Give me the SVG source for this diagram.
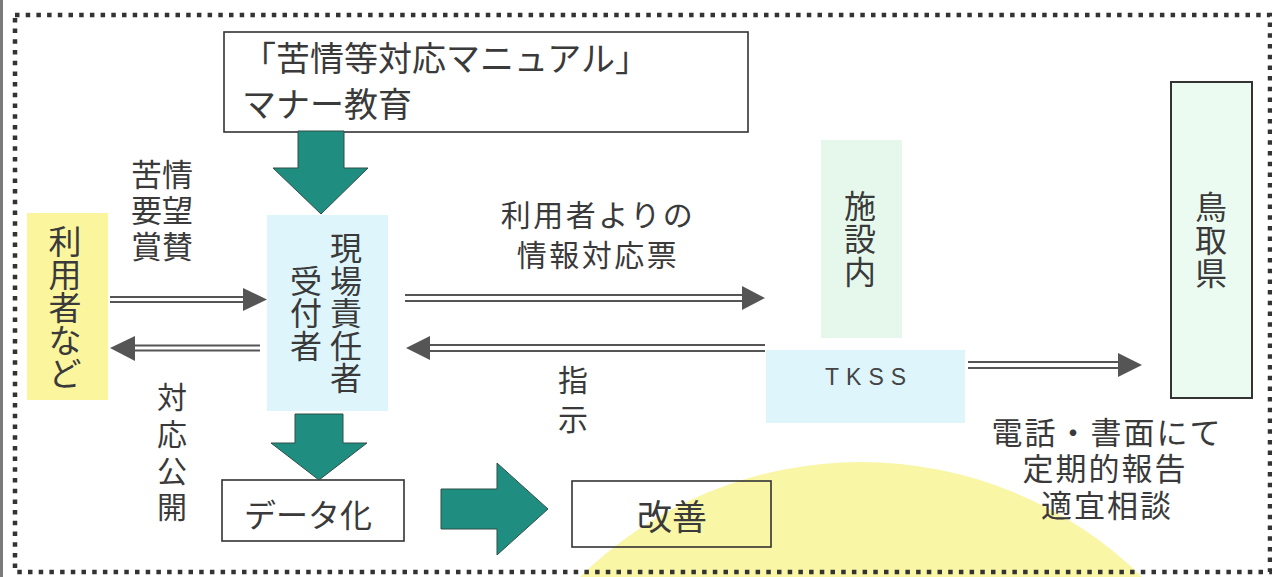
<svg xmlns="http://www.w3.org/2000/svg" width="1272" height="577" viewBox="0 0 1272 577">
<style>
.t{font-family:"Noto Sans CJK JP","Noto Sans",sans-serif;fill:#3a3a3a;}
.box{fill:#fff;stroke:#333;stroke-width:1.6;}
.dl{stroke:#555;stroke-width:2;}
.hd{fill:#555;}
.teal{fill:#1f8e80;stroke:#2f4f49;stroke-width:1;}
</style>
<rect x="0" y="0" width="1272" height="577" fill="#fff"/>
<circle cx="861" cy="863" r="401" fill="#f9f6a6"/>
<rect x="0" y="0" width="3" height="577" fill="#7a7a7a"/>
<rect x="15" y="15" width="1255" height="557" fill="none" stroke="#333" stroke-width="4.5" stroke-dasharray="4.5 6.2"/>

<g id="manual">
<rect class="box" x="224" y="32" width="524" height="100"/>
<text class="t" x="242" y="71" font-size="34">「苦情等対応マニュアル」</text>
<text class="t" x="242" y="117" font-size="34">マナー教育</text>
</g>

<g id="user">
<rect x="27" y="213" width="81" height="187" fill="#fbf59e"/>
<text class="t" font-size="33" text-anchor="middle"><tspan x="65" y="254">利</tspan><tspan x="65" y="287">用</tspan><tspan x="65" y="320">者</tspan><tspan x="65" y="353">な</tspan><tspan x="65" y="386">ど</tspan></text>
</g>

<g id="staff">
<rect x="267" y="215" width="121" height="196" fill="#def6fb"/>
<text class="t" font-size="32" text-anchor="middle"><tspan x="346" y="260">現</tspan><tspan x="346" y="292.5">場</tspan><tspan x="346" y="325">責</tspan><tspan x="346" y="357.5">任</tspan><tspan x="346" y="390">者</tspan></text>
<text class="t" font-size="32" text-anchor="middle"><tspan x="306" y="292.5">受</tspan><tspan x="306" y="325">付</tspan><tspan x="306" y="357.5">者</tspan></text>
</g>

<g id="facility">
<rect x="821" y="140" width="81" height="198" fill="#e6f8ec"/>
<text class="t" font-size="32" text-anchor="middle"><tspan x="860" y="218">施</tspan><tspan x="860" y="251">設</tspan><tspan x="860" y="284">内</tspan></text>
</g>

<g id="tkss">
<rect x="766" y="350" width="199" height="73" fill="#def6fb"/>
<text x="825" y="385" font-family="Liberation Sans, Arial, sans-serif" font-size="23" letter-spacing="7" fill="#444">TKSS</text>
</g>

<g id="tottori">
<rect x="1171" y="82" width="81" height="316" fill="#ecfbf2" stroke="#333" stroke-width="2"/>
<text class="t" font-size="32" text-anchor="middle"><tspan x="1211" y="219">鳥</tspan><tspan x="1211" y="252">取</tspan><tspan x="1211" y="285">県</tspan></text>
</g>

<g id="data">
<rect class="box" x="222" y="480" width="182" height="61"/>
<text class="t" x="308" y="527" font-size="32" text-anchor="middle">データ化</text>
</g>

<g id="kaizen">
<rect x="572" y="481" width="199" height="66" fill="none" stroke="#333" stroke-width="1.6"/>
<text class="t" x="672" y="530" font-size="35" text-anchor="middle">改善</text>
</g>

<g id="labels">
<text class="t" font-size="31"><tspan x="131" y="186">苦情</tspan><tspan x="131" y="222">要望</tspan><tspan x="131" y="258">賞賛</tspan></text>
<text class="t" font-size="30" text-anchor="middle"><tspan x="172" y="408">対</tspan><tspan x="172" y="445">応</tspan><tspan x="172" y="482">公</tspan><tspan x="172" y="518">開</tspan></text>
<text class="t" font-size="30" text-anchor="middle" letter-spacing="2.5"><tspan x="598" y="226">利用者よりの</tspan><tspan x="598" y="266">情報対応票</tspan></text>
<text class="t" font-size="30" text-anchor="middle"><tspan x="573" y="391">指</tspan><tspan x="573" y="430">示</tspan></text>
<text class="t" font-size="31" text-anchor="middle" letter-spacing="2"><tspan x="1107" y="444">電話・書面にて</tspan><tspan x="1105" y="480">定期的報告</tspan><tspan x="1107" y="517">適宜相談</tspan></text>
</g>

<g id="connectors">
<line class="dl" x1="110" y1="297" x2="245" y2="297"/><line class="dl" x1="110" y1="302" x2="245" y2="302"/>
<polygon class="hd" points="243,288 267,299.5 243,311"/>
<line class="dl" x1="133" y1="345.5" x2="260" y2="345.5"/><line class="dl" x1="133" y1="350.5" x2="260" y2="350.5"/>
<polygon class="hd" points="135,336 110,348 135,361"/>
<line class="dl" x1="405" y1="295" x2="745" y2="295"/><line class="dl" x1="405" y1="301" x2="745" y2="301"/>
<polygon class="hd" points="742,286 765,298 742,310"/>
<line class="dl" x1="428" y1="345" x2="765" y2="345"/><line class="dl" x1="428" y1="351" x2="765" y2="351"/>
<polygon class="hd" points="430,336 406,348 430,360"/>
<line class="dl" x1="968" y1="362" x2="1120" y2="362"/><line class="dl" x1="968" y1="368" x2="1120" y2="368"/>
<polygon class="hd" points="1118,353 1142,365 1118,377"/>
<polygon class="teal" points="298,131 344,131 344,168 368,168 321,214 273,168 298,168"/>
<polygon class="teal" points="295,414 343,414 343,443 367,443 319,480 271,443 295,443"/>
<polygon class="teal" points="441,489 497,489 497,463 548,509 497,555 497,529 441,529"/>
</g>
</svg>
